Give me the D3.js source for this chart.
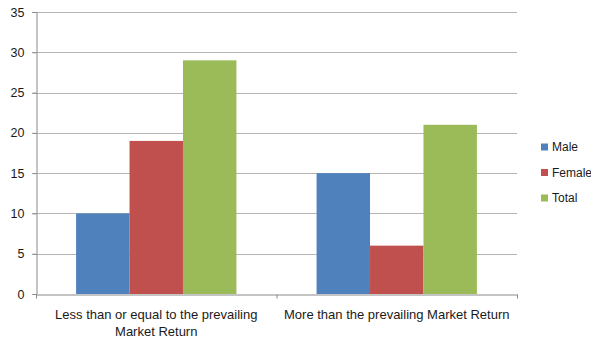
<!DOCTYPE html>
<html>
<head>
<meta charset="utf-8">
<script src="https://cdn.jsdelivr.net/npm/d3@7"></script>
<style>
  html, body { margin: 0; padding: 0; background: #fff; }
  svg { display: block; }
  text { font-family: "Liberation Sans", Arial, sans-serif; fill: #1a1a1a; }
</style>
</head>
<body>
<svg id="chart" width="591" height="340"></svg>
<script>
// Chart data
const categories = [
  ["Less than or equal to the prevailing", "Market Return"],
  ["More than the prevailing Market Return"]
];
const seriesNames = ["Male", "Female", "Total"];
const male = [10, 15];
const female = [19, 6];
const total = [29, 21];
const yTicks = [0, 5, 10, 15, 20, 25, 30, 35];
const colors = ["#4F81BD", "#C0504D", "#9BBB59"];

const seriesValues = [male, female, total];

const svg = d3.select("#chart");
const margin = { left: 36, right: 74, top: 12, bottom: 46 };
const W = 591, H = 340;
const x0 = margin.left, x1 = W - margin.right;
const yTop = margin.top, yBot = H - margin.bottom;

const x = d3.scaleBand()
  .domain(d3.range(categories.length))
  .range([x0, x1])
  .paddingInner(0)
  .paddingOuter(0);

const xs = d3.scaleBand()
  .domain(d3.range(seriesNames.length))
  .range([0, x.bandwidth()])
  .paddingInner(0)
  .paddingOuter(0.75);

const y = d3.scaleLinear().domain([0, 35]).range([yBot, yTop]);

// Horizontal gridlines
svg.append("g")
  .selectAll("line")
  .data(yTicks.filter(d => d > 0))
  .join("line")
  .attr("x1", x0 - 4).attr("x2", x1)
  .attr("y1", d => Math.round(y(d)) + 0.5)
  .attr("y2", d => Math.round(y(d)) + 0.5)
  .attr("stroke", "#b4b4b4")
  .attr("stroke-width", 1);

// Bars
const groups = svg.append("g")
  .selectAll("g")
  .data(categories.map((c, i) => i))
  .join("g")
  .attr("transform", i => `translate(${x(i)},0)`);

groups.selectAll("rect")
  .data(i => seriesValues.map((s, k) => ({ k, v: s[i] })))
  .join("rect")
  .attr("x", d => xs(d.k))
  .attr("width", xs.bandwidth())
  .attr("y", d => y(d.v))
  .attr("height", d => y(0) - y(d.v))
  .attr("fill", d => colors[d.k]);

// Y axis
const yAxis = d3.axisLeft(y).tickValues(yTicks).tickSize(4).tickPadding(8);
const gy = svg.append("g")
  .attr("transform", `translate(${x0 + 0.5},0)`)
  .call(yAxis);
gy.select(".domain").attr("stroke", "#8a8a8a");
gy.selectAll(".tick line").attr("stroke", "#8a8a8a");
gy.selectAll(".tick text")
  .attr("font-size", 12.5)
  .attr("font-family", "Liberation Sans, Arial, sans-serif")
  .attr("fill", "#1a1a1a");

// X axis: baseline with ticks at band edges
const xEdge = d3.scaleLinear().domain([0, categories.length]).range([x0, x1]);
const xAxis = d3.axisBottom(xEdge).tickValues(d3.range(categories.length + 1))
  .tickSize(4).tickSizeOuter(0).tickFormat("");
const gx = svg.append("g")
  .attr("transform", `translate(0,${Math.round(yBot) + 0.5})`)
  .call(xAxis);
gx.select(".domain").attr("stroke", "#8a8a8a");
gx.selectAll(".tick line").attr("stroke", "#8a8a8a");

// Category labels
categories.forEach((lines, i) => {
  const t = svg.append("text")
    .attr("x", x(i) + x.bandwidth() / 2)
    .attr("y", yBot + 24.5)
    .attr("text-anchor", "middle")
    .attr("font-size", 13);
  lines.forEach((ln, j) => {
    t.append("tspan")
      .attr("x", x(i) + x.bandwidth() / 2)
      .attr("dy", j === 0 ? 0 : 17)
      .text(ln);
  });
});

// Legend
const legend = svg.append("g").attr("transform", "translate(541,147)");
seriesNames.forEach((name, k) => {
  const g = legend.append("g").attr("transform", `translate(0,${k * 25.5})`);
  g.append("rect")
    .attr("x", 0).attr("y", -3.5)
    .attr("width", 7).attr("height", 7)
    .attr("fill", colors[k]);
  g.append("text")
    .attr("x", 11).attr("y", 0)
    .attr("dy", "0.35em")
    .attr("font-size", 12)
    .text(name);
});
</script>
</body>
</html>
